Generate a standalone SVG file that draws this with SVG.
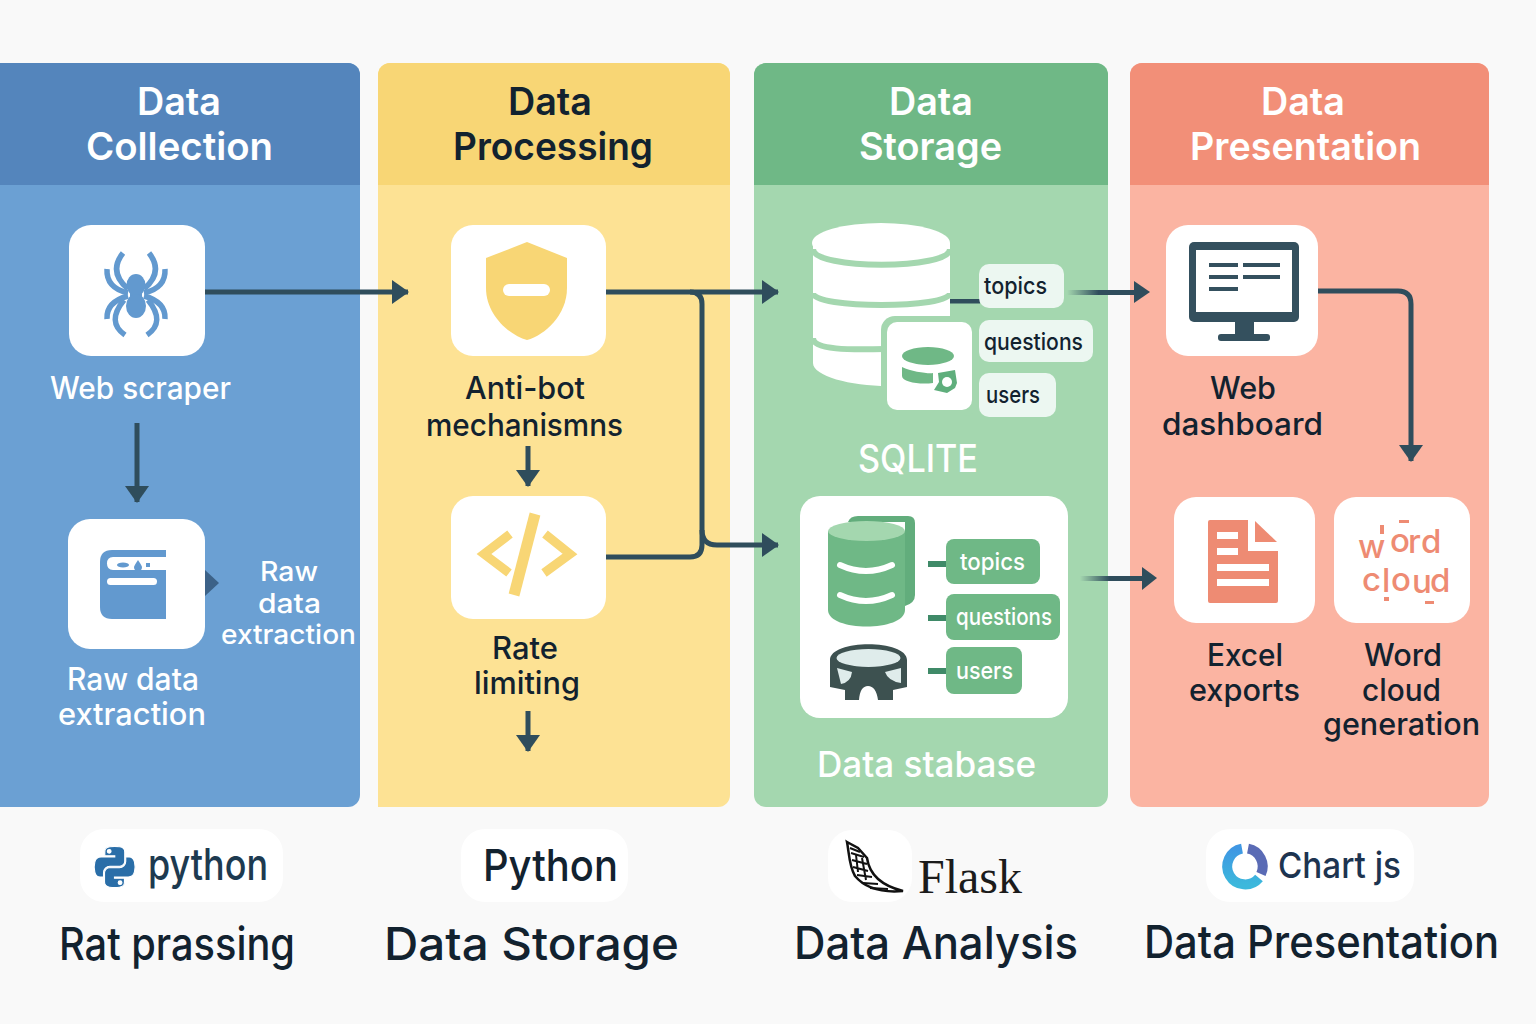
<svg xmlns="http://www.w3.org/2000/svg" xmlns:xlink="http://www.w3.org/1999/xlink" width="1536" height="1024" viewBox="0 0 1536 1024">
<style>
text{font-family:"Inter","Noto Sans","Liberation Sans",sans-serif;font-weight:500}
.w{fill:#fff}.k{fill:#12222f}
.h{font-size:38px;font-weight:600}
.n{font-size:31px}
.c{fill:none;stroke:#2f4d5c;stroke-width:5}
.t{font-size:24px}
.b{font-size:45px}
.card{fill:#fff}
.chip{fill:#ecf7f1}
.gchip{fill:#6fb886}
</style>
<defs>
<marker id="ah" markerUnits="userSpaceOnUse" markerWidth="18" markerHeight="24" refX="16" refY="12" orient="auto"><path d="M0 0L17 12L0 24Z" fill="#2f4d5c"/></marker>
<linearGradient id="fa" x1="0" x2="1" y1="0" y2="0"><stop offset="0" stop-color="#2f4d5c" stop-opacity="0"/><stop offset=".45" stop-color="#2f4d5c"/></linearGradient>
<linearGradient id="ring" x1="0" x2="0" y1="0" y2="1"><stop offset="0" stop-color="#3f97e3"/><stop offset="1" stop-color="#3cb8dc"/></linearGradient>
<path id="py" d="M54.900 .9C50.300 .9 45.900 1.300 42.100 2C30.800 4 28.800 8.100 28.800 15.800V26H55.400V29.400H18.800C11 29.400 4.200 34 2.100 42.800C-.4 52.800 -.5 59.100 2.100 69.500C4 77.200 8.400 82.800 16.200 82.800H25.400V70.500C25.400 61.700 33 53.900 42.100 53.900H68.700C76.100 53.900 82 47.800 82 40.400V15.800C82 8.700 76 3.300 68.700 2.100C64.100 1.300 59.400 .9 54.900 .9ZM40.500 9.200C43.300 9.200 45.500 11.500 45.500 14.300C45.500 17.100 43.300 19.400 40.500 19.400C37.800 19.400 35.500 17.100 35.500 14.300C35.500 11.500 37.800 9.200 40.500 9.200Z"/>
</defs>
<rect width="1536" height="1024" fill="#f9f9f9"/>

<g id="panel-collection">
<path d="M-4 807V63H348a12 12 0 0 1 12 12V795a12 12 0 0 1-12 12Z" fill="#6ba0d3"/>
<path d="M-4 185V63H348a12 12 0 0 1 12 12V185Z" fill="#5485bc"/>
<text class="w h" x="137" y="115" textLength="84" lengthAdjust="spacingAndGlyphs">Data</text>
<text class="w h" x="86" y="160" textLength="187" lengthAdjust="spacingAndGlyphs">Collection</text>
</g>
<g id="panel-processing">
<path d="M378 807V75a12 12 0 0 1 12-12H718a12 12 0 0 1 12 12V795a12 12 0 0 1-12 12Z" fill="#fde294"/>
<path d="M378 185V75a12 12 0 0 1 12-12H718a12 12 0 0 1 12 12V185Z" fill="#f8d675"/>
<text class="k h" x="508" y="115" textLength="84" lengthAdjust="spacingAndGlyphs">Data</text>
<text class="k h" x="453" y="160" textLength="200" lengthAdjust="spacingAndGlyphs">Processing</text>
</g>
<g id="panel-storage">
<rect x="754" y="63" width="354" height="744" rx="12" fill="#a4d7af"/>
<path d="M754 185V75a12 12 0 0 1 12-12H1096a12 12 0 0 1 12 12V185Z" fill="#6fb886"/>
<text class="w h" x="889" y="115" textLength="84" lengthAdjust="spacingAndGlyphs">Data</text>
<text class="w h" x="859" y="160" textLength="143" lengthAdjust="spacingAndGlyphs">Storage</text>
</g>
<g id="panel-presentation">
<rect x="1130" y="63" width="359" height="744" rx="12" fill="#fbb4a2"/>
<path d="M1130 185V75a12 12 0 0 1 12-12H1477a12 12 0 0 1 12 12V185Z" fill="#f28f78"/>
<text class="w h" x="1261" y="115" textLength="84" lengthAdjust="spacingAndGlyphs">Data</text>
<text class="w h" x="1190" y="160" textLength="231" lengthAdjust="spacingAndGlyphs">Presentation</text>
</g>

<g id="connectors">
<path class="c" d="M205 292H408" marker-end="url(#ah)"/>
<path class="c" d="M137 423V502" marker-end="url(#ah)"/>
<path d="M205 570L219 583L205 596Z" fill="#3c6288"/>
<path class="c" d="M528 446V486" marker-end="url(#ah)"/>
<path class="c" d="M528 711V751" marker-end="url(#ah)"/>
<path class="c" d="M606 292H778" marker-end="url(#ah)"/>
<path class="c" d="M690 292Q702 292 702 304V545Q702 557 690 557H606"/>
<path class="c" d="M702 530Q702 545 717 545H778" marker-end="url(#ah)"/>
<path d="M950 299H980V303.500H950Z" fill="#2f4d5c"/>
<rect x="1067" y="290" width="70" height="5" fill="url(#fa)"/>
<path d="M1134 281L1150 292L1134 303Z" fill="#2f4d5c"/>
<path class="c" d="M1318 291H1398Q1411 291 1411 304V461" marker-end="url(#ah)"/>
<rect x="1080" y="576" width="65" height="5" fill="url(#fa)"/>
<path d="M1142 567L1157 578L1142 590Z" fill="#2f4d5c"/>
</g>

<g id="web-scraper">
<rect class="card" x="69" y="225" width="136" height="131" rx="22"/>
<g fill="none" stroke="#6299cf" stroke-width="5.500">
<path d="M123 253Q108 272 128 289M149 253Q164 272 144 289"/>
<path d="M107 269Q106 288 128 293M165 269Q166 288 144 293"/>
<path d="M107 319Q106 302 128 296M165 319Q166 302 144 296"/>
<path d="M125 335Q106 322 124 300M147 335Q166 322 148 300"/>
</g>
<ellipse cx="136" cy="285" rx="9.500" ry="11" fill="#6299cf"/>
<rect x="130" y="290" width="12" height="15" fill="#6299cf"/>
<ellipse cx="136" cy="306" rx="10" ry="12" fill="#6299cf"/>
<text class="w n" x="50" y="399" textLength="181" lengthAdjust="spacingAndGlyphs">Web scraper</text>
</g>
<g id="raw-data-extraction">
<rect class="card" x="68" y="519" width="137" height="130" rx="22"/>
<path d="M166 550H112Q100 550 100 562V607Q100 619 112 619H166Z" fill="#6299cf"/>
<path d="M166 557H113Q107 557 107 563.500Q107 570 113 570H166Z" fill="#fff"/>
<ellipse cx="123" cy="565" rx="6" ry="2.500" fill="#6299cf"/>
<path d="M138 560Q134 566 134 567A4 4 0 0 0 142 567Q142 566 138 560Z" fill="#6299cf"/>
<rect x="146" y="563" width="4" height="4" fill="#6299cf"/>
<rect x="107" y="578" width="50" height="7" rx="3.500" fill="#fff"/>
<text class="w n" x="67" y="690" textLength="132" lengthAdjust="spacingAndGlyphs">Raw data</text>
<text class="w n" x="58" y="725" textLength="148" lengthAdjust="spacingAndGlyphs">extraction</text>
<text class="w" font-size="27" x="260" y="581" textLength="58" lengthAdjust="spacingAndGlyphs">Raw</text>
<text class="w" font-size="27" x="258" y="613" textLength="63" lengthAdjust="spacingAndGlyphs">data</text>
<text class="w" font-size="27" x="221" y="644" textLength="135" lengthAdjust="spacingAndGlyphs">extraction</text>
</g>
<g id="anti-bot">
<rect class="card" x="451" y="225" width="155" height="131" rx="22"/>
<path d="M527 242L567 258V288C567 315 545 335 527 340C509 335 486 315 486 288V258Z" fill="#f8d675"/>
<rect x="503" y="284" width="47" height="12" rx="6" fill="#fff"/>
<text class="k n" x="465" y="399" textLength="120" lengthAdjust="spacingAndGlyphs">Anti-bot</text>
<text class="k n" x="426" y="436" textLength="197" lengthAdjust="spacingAndGlyphs">mechanismns</text>
</g>
<g id="rate-limiting">
<rect class="card" x="451" y="496" width="155" height="123" rx="22"/>
<g fill="none" stroke="#f8d675" stroke-width="9">
<path d="M510 534L484 554L509 573M545 534L570 554L544 573"/>
<path d="M535 514L514 595" stroke-width="11"/>
</g>
<text class="k n" x="492" y="659" textLength="66" lengthAdjust="spacingAndGlyphs">Rate</text>
<text class="k n" x="474" y="694" textLength="106" lengthAdjust="spacingAndGlyphs">limiting</text>
</g>
<g id="sqlite">
<path d="M813 243V363C813 376 850 386 888 386V322H950V243Z" fill="#fff"/>
<ellipse cx="881" cy="243" rx="69" ry="20" fill="#fff"/>
<path d="M813 249C813 270 950 270 950 249M813 293C813 309 950 309 950 293M813 338C813 350 850 350 885 349" fill="none" stroke="#a4d7af" stroke-width="6"/>
<rect x="881" y="316" width="97" height="100" rx="14" fill="#a4d7af"/>
<rect class="card" x="887" y="322" width="85" height="88" rx="10"/>
<ellipse cx="928" cy="356" rx="26" ry="9" fill="#6fb886"/>
<path d="M902 367C912 372 930 374 933 373V383C920 385 902 382 902 376Z" fill="#6fb886"/>
<path d="M938 373L955 370L957 383L955 388L947 393L934 390L939 382Z" fill="#5fae7c"/>
<circle cx="947" cy="382" r="5" fill="#fff"/>
<rect class="chip" x="979" y="264" width="85" height="44" rx="10"/>
<rect class="chip" x="979" y="320" width="114" height="42" rx="10"/>
<rect class="chip" x="979" y="373" width="77" height="44" rx="10"/>
<text class="k t" x="984" y="294" textLength="63" lengthAdjust="spacingAndGlyphs">topics</text>
<text class="k t" x="984" y="350" textLength="99" lengthAdjust="spacingAndGlyphs">questions</text>
<text class="k t" x="986" y="403" textLength="54" lengthAdjust="spacingAndGlyphs">users</text>
<text class="w" font-size="38" x="858" y="472" textLength="120" lengthAdjust="spacingAndGlyphs">SQLITE</text>
</g>
<g id="database">
<rect class="card" x="800" y="496" width="268" height="222" rx="20"/>
<path d="M848 522Q850 516 858 516H908Q915 516 915 523V595Q915 603 905 606V522Z" fill="#62ad7c"/>
<path d="M828 531V610C828 632 905 632 905 610V531Z" fill="#6fb886"/>
<ellipse cx="866.500" cy="531" rx="38.500" ry="10" fill="#a4d7af"/>
<path d="M840 565Q866 577 892 565M840 595Q866 607 892 595" fill="none" stroke="#fff" stroke-width="6" stroke-linecap="round"/>
<path d="M830 660C830 639 907 639 907 660V687L893 690V700H878Q876 686 868 686T859 700H845V690L830 687Z" fill="#3d5150"/>
<ellipse cx="868.500" cy="658" rx="32" ry="9" fill="#dfeceb"/>
<path d="M837 668L852 672Q851 682 841 684ZM901 668L885 672Q888 681 901 683Z" fill="#dfeceb"/>
<path d="M928 564H947M928 618H947M928 671H947" stroke="#3f8a68" stroke-width="6" fill="none"/>
<rect class="gchip" x="946" y="539" width="94" height="45" rx="8"/>
<rect class="gchip" x="946" y="594" width="114" height="46" rx="8"/>
<rect class="gchip" x="946" y="647" width="76" height="47" rx="8"/>
<text class="w t" x="960" y="570" textLength="65" lengthAdjust="spacingAndGlyphs">topics</text>
<text class="w t" x="956" y="625" textLength="96" lengthAdjust="spacingAndGlyphs">questions</text>
<text class="w t" x="956" y="679" textLength="57" lengthAdjust="spacingAndGlyphs">users</text>
<text class="w" font-size="36" font-weight="600" x="817" y="777" textLength="219" lengthAdjust="spacingAndGlyphs">Data stabase</text>
</g>
<g id="web-dashboard">
<rect class="card" x="1166" y="225" width="152" height="131" rx="22"/>
<rect x="1189" y="242" width="110" height="80" rx="5" fill="#34505e"/>
<rect x="1196" y="250" width="96" height="62" fill="#fff"/>
<path d="M1209 265H1238M1243 265H1280M1209 277H1238M1243 277H1280M1209 289H1238" stroke="#34505e" stroke-width="4"/>
<path d="M1235 322H1254V335H1235Z" fill="#34505e"/>
<rect x="1218" y="334" width="52" height="7" rx="3" fill="#34505e"/>
<text class="k n" x="1210" y="399" textLength="66" lengthAdjust="spacingAndGlyphs">Web</text>
<text class="k n" x="1162" y="435" textLength="161" lengthAdjust="spacingAndGlyphs">dashboard</text>
</g>
<g id="excel-exports">
<rect class="card" x="1174" y="497" width="141" height="126" rx="22"/>
<path d="M1208 522Q1208 520 1210 520H1248V551H1278V601Q1278 603 1276 603H1210Q1208 603 1208 601Z" fill="#ee8b73"/>
<path d="M1255 521L1277 542H1255Z" fill="#ee8b73"/>
<path d="M1217 532H1238V539H1217ZM1217 548H1238V555H1217ZM1217 564H1269V571H1217ZM1217 579H1269V586H1217Z" fill="#fff"/>
<text class="k n" x="1207" y="666" textLength="76" lengthAdjust="spacingAndGlyphs">Excel</text>
<text class="k n" x="1189" y="701" textLength="111" lengthAdjust="spacingAndGlyphs">exports</text>
</g>
<g id="word-cloud">
<rect class="card" x="1334" y="497" width="136" height="126" rx="22"/>
<text font-size="33" font-weight="600" fill="#ee8b73" x="1358 1390 1408 1421" y="558 552 553 553">word</text>
<text font-size="33" font-weight="600" fill="#ee8b73" x="1362 1382 1391 1412 1430" y="591 592 591 593 592">cloud</text>
<path d="M1399 520H1409V523H1399ZM1380 525H1384V534H1380ZM1384 597H1389V601H1384ZM1425 601H1434V604H1425Z" fill="#ee8b73"/>
<text class="k n" x="1364" y="666" textLength="78" lengthAdjust="spacingAndGlyphs">Word</text>
<text class="k n" x="1362" y="701" textLength="79" lengthAdjust="spacingAndGlyphs">cloud</text>
<text class="k n" x="1323" y="735" textLength="157" lengthAdjust="spacingAndGlyphs">generation</text>
</g>

<g id="logo-python">
<rect class="card" x="80" y="829" width="203" height="73" rx="24"/>
<g transform="translate(94 846) scale(.375)" fill="#2a6ea8" stroke="#fff" stroke-width="3">
<use xlink:href="#py" href="#py"/>
<use xlink:href="#py" href="#py" transform="rotate(180 55 56)"/>
</g>
<text x="148" y="880" font-size="44" font-weight="300" fill="#1d3a50" textLength="120" lengthAdjust="spacingAndGlyphs">python</text>
</g>
<g id="logo-python-2">
<rect class="card" x="461" y="829" width="167" height="73" rx="24"/>
<text class="k" x="483" y="881" font-size="44" textLength="135" lengthAdjust="spacingAndGlyphs">Python</text>
</g>
<g id="logo-flask">
<rect class="card" x="828" y="830" width="84" height="72" rx="24"/>
<path d="M847 842L858 848L867 858C869 872 879 885 903 891C880 893 865 888 855 876C849 866 849 852 847 842Z" fill="#fff" stroke="#111" stroke-width="2.500"/>
<path d="M851 853L864 857M852 860L867 864M853 867L868 871M857 875L872 877M863 883L878 884M870 888L888 889M856 855L858 872M862 858L866 880M850 848L860 852" stroke="#111" stroke-width="2" fill="none"/>
<text x="918" y="893" font-size="48" fill="#1b1b1b" style="font-family:'Liberation Serif',serif;font-weight:400" textLength="104" lengthAdjust="spacingAndGlyphs">Flask</text>
</g>
<g id="logo-chartjs">
<rect class="card" x="1206" y="829" width="208" height="73" rx="24"/>
<path d="M1242 848.700A18 18 0 1 0 1259 878" fill="none" stroke="url(#ring)" stroke-width="10"/>
<path d="M1248 848.700A18 18 0 0 1 1261 874" fill="none" stroke="#5a6bb5" stroke-width="10"/>
<text x="1278" y="878" font-size="36" fill="#1d3450" textLength="123" lengthAdjust="spacingAndGlyphs">Chart js</text>
</g>
<g id="captions">
<text class="k b" x="59" y="960" textLength="236" lengthAdjust="spacingAndGlyphs">Rat prassing</text>
<text class="k b" x="384" y="960" textLength="295" lengthAdjust="spacingAndGlyphs">Data Storage</text>
<text class="k b" x="794" y="959" textLength="284" lengthAdjust="spacingAndGlyphs">Data Analysis</text>
<text class="k b" x="1144" y="958" textLength="355" lengthAdjust="spacingAndGlyphs">Data Presentation</text>
</g>
</svg>
